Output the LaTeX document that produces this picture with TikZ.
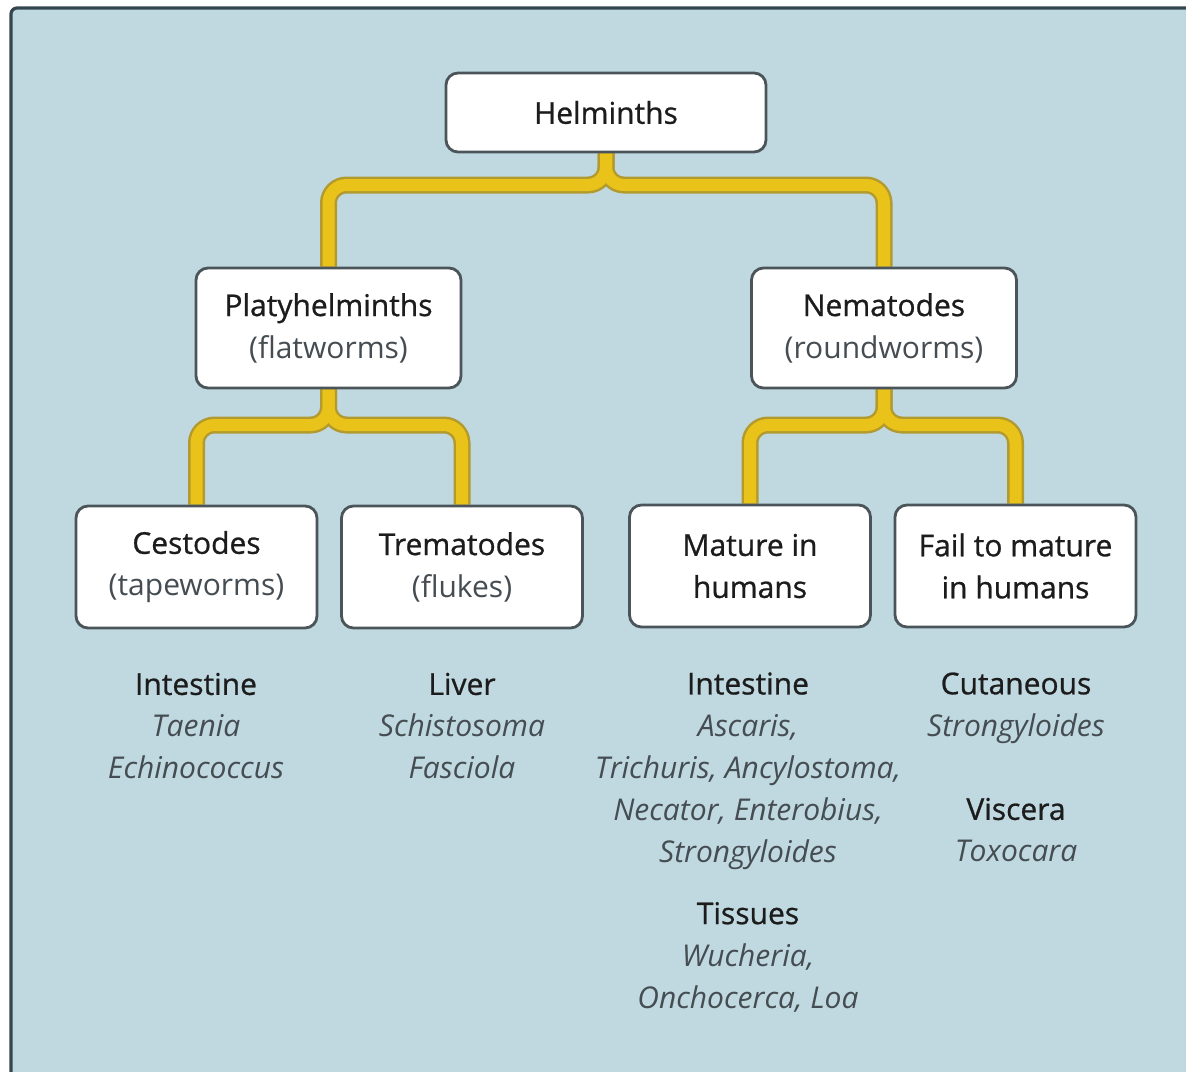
\documentclass[tikz,border=0pt]{standalone}
\usepackage{fontspec}
\setmainfont{Open Sans}
\newfontfamily\hdfont{Open Sans}[FakeBold=0.8]
\usetikzlibrary{backgrounds}
\definecolor{bgblue}{HTML}{C0D9E1}
\definecolor{framecol}{HTML}{34474E}
\definecolor{boxline}{HTML}{4B5559}
\definecolor{ydark}{HTML}{B39A2E}
\definecolor{yfill}{HTML}{E9C21A}
\definecolor{txt}{HTML}{1C1C1C}
\definecolor{soft}{HTML}{454D52}
\newcommand{\spc}[1]{\textcolor{soft}{\normalfont\itshape #1}}
\newcommand{\paren}[1]{\textcolor{soft}{\normalfont #1}}
\begin{document}
\begin{tikzpicture}[x=0.5pt,y=-0.5pt,
  box/.style={draw=boxline, fill=white, line width=1.4pt, rounded corners=6pt,
    align=center, inner sep=0pt, font=\hdfont\fontsize{15}{21}\selectfont, text=txt},
  topbox/.style={box, minimum width=160pt, minimum height=39.5pt},
  midbox/.style={box, minimum width=132.5pt, minimum height=60pt},
  lowbox/.style={box, minimum width=120.5pt, minimum height=61pt},
  labels/.style={align=center, inner sep=0pt, font=\hdfont\fontsize{15}{21}\selectfont, text=txt},
  yout/.style={draw=ydark, line width=8.5pt, rounded corners=9pt},
  yin/.style={draw=yfill, line width=6pt, rounded corners=9pt}]

\useasboundingbox (0,0) rectangle (1186,1071);
\clip (0,0) rectangle (1186,1071);

% boxes
\node[topbox] (helm) at (606,112.5) {Helminths};
\node[midbox] (platy) at (328.5,328) {Platyhelminths\\\paren{(flatworms)}};
\node[midbox] (nema) at (884,328) {Nematodes\\\paren{(roundworms)}};
\node[lowbox] (cest) at (196.5,567) {Cestodes\\\paren{(tapeworms)}};
\node[lowbox] (trem) at (462,567) {Trematodes\\\paren{(flukes)}};
\node[lowbox] (mat) at (750,566) {Mature in\\humans};
\node[lowbox] (fail) at (1015.5,566) {Fail to mature\\in humans};

% texts
\node[labels] (t1) at (196,726) {Intestine\\\spc{Taenia}\\\spc{Echinococcus}};
\node[labels] (t2) at (462,726) {Liver\\\spc{Schistosoma}\\\spc{Fasciola}};
\node[labels] (t3) at (748,771) {Intestine\\\spc{Ascaris,}\\\spc{Trichuris, Ancylostoma,}\\\spc{Necator, Enterobius,}\\\spc{Strongyloides}};
\node[labels] (t4) at (748,957) {Tissues\\\spc{Wucheria,}\\\spc{Onchocerca, Loa}};
\node[labels] (t5) at (1016,708) {Cutaneous\\\spc{Strongyloides}};
\node[labels] (t6) at (1016,830) {Viscera\\\spc{Toxocara}};

\begin{pgfonlayer}{background}
  \draw[framecol, fill=bgblue, line width=1.6pt, rounded corners=3pt] (11,8) rectangle (1260,1140);
  \foreach \s in {yout,yin}{
    \draw[\s] (helm.south) -- (helm.south |- 0,185) -| (platy.north);
    \draw[\s] (helm.south) -- (helm.south |- 0,185) -| (nema.north);
    \draw[\s] (platy.south) -- (platy.south |- 0,425) -| (cest.north);
    \draw[\s] (platy.south) -- (platy.south |- 0,425) -| (trem.north);
    \draw[\s] (nema.south) -- (nema.south |- 0,425) -| (mat.north);
    \draw[\s] (nema.south) -- (nema.south |- 0,425) -| (fail.north);
  }
\end{pgfonlayer}
\end{tikzpicture}
\end{document}
